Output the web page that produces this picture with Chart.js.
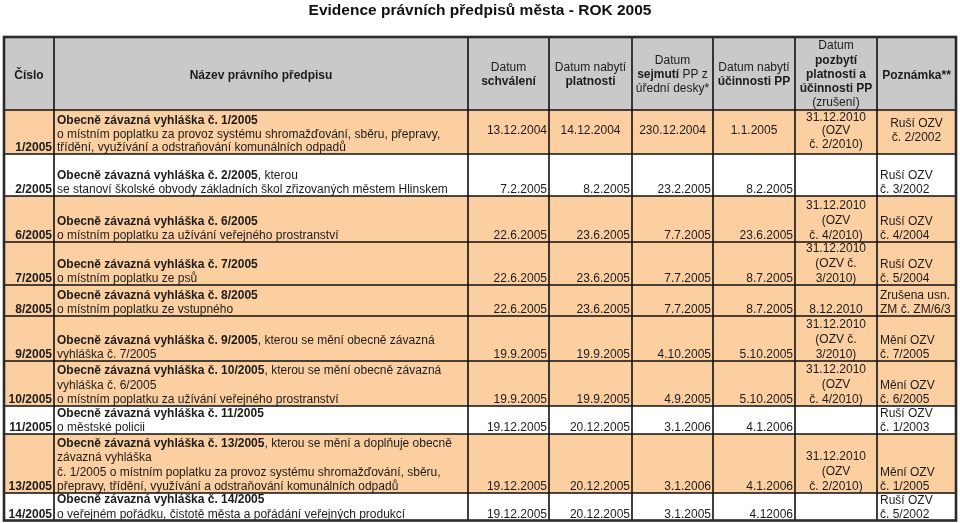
<!DOCTYPE html>
<html>
<head>
<meta charset="utf-8">
<script src="https://cdn.jsdelivr.net/npm/chart.js@4"></script>
<style>
  body { margin: 0; background: #fff; }
  canvas { display: block; }
</style>
</head>
<body>
<canvas id="tabulka" width="960" height="523"></canvas>
<script>

/*DATA TABULKY*/
var titulek = "Evidence právních předpisů města - ROK 2005";

// ~ = prepnuti tucne / normalni
var hlavicky = [
  ["~Číslo"],
  ["~Název právního předpisu"],
  ["Datum", "~schválení"],
  ["Datum nabytí", "~platnosti"],
  ["Datum", "~sejmutí~ PP z", "úřední desky*"],
  ["Datum nabytí", "~účinnosti PP"],
  ["Datum", "~pozbytí", "~platnosti a", "~účinnosti PP", "(zrušení)"],
  ["~Poznámka**"]
];

var cisla = ["1/2005", "2/2005", "6/2005", "7/2005", "8/2005", "9/2005", "10/2005", "11/2005", "13/2005", "14/2005"];

var nazvy = [
  ["~Obecně závazná vyhláška č. 1/2005", "o místním poplatku za provoz systému shromažďování, sběru, přepravy,", "třídění, využívání a odstraňování komunálních odpadů"],
  ["~Obecně závazná vyhláška č. 2/2005~, kterou", "se stanoví školské obvody základních škol zřizovaných městem Hlinskem"],
  ["~Obecně závazná vyhláška č. 6/2005", "o místním poplatku za užívání veřejného prostranství"],
  ["~Obecně závazná vyhláška č. 7/2005", "o místním poplatku ze psů"],
  ["~Obecně závazná vyhláška č. 8/2005", "o místním poplatku ze vstupného"],
  ["~Obecně závazná vyhláška č. 9/2005~, kterou se mění obecně závazná", "vyhláška č. 7/2005"],
  ["~Obecně závazná vyhláška č. 10/2005~, kterou se mění obecně závazná", "vyhláška č. 6/2005", "o místním poplatku za užívání veřejného prostranství"],
  ["~Obecně závazná vyhláška č. 11/2005", "o městské policii"],
  ["~Obecně závazná vyhláška č. 13/2005~, kterou se mění a doplňuje obecně", "závazná vyhláška", "č. 1/2005 o místním poplatku za provoz systému shromažďování, sběru,", "přepravy, třídění, využívání a odstraňování komunálních odpadů"],
  ["~Obecně závazná vyhláška č. 14/2005", "o veřejném pořádku, čistotě města a pořádání veřejných produkcí"]
];

var datumSchvaleni = ["13.12.2004", "7.2.2005", "22.6.2005", "22.6.2005", "22.6.2005", "19.9.2005", "19.9.2005", "19.12.2005", "19.12.2005", "19.12.2005"];
var datumPlatnosti = ["14.12.2004", "8.2.2005", "23.6.2005", "23.6.2005", "23.6.2005", "19.9.2005", "19.9.2005", "20.12.2005", "20.12.2005", "20.12.2005"];
var datumSejmuti = ["230.12.2004", "23.2.2005", "7.7.2005", "7.7.2005", "7.7.2005", "4.10.2005", "4.9.2005", "3.1.2006", "3.1.2006", "3.1.2005"];
var datumUcinnosti = ["1.1.2005", "8.2.2005", "23.6.2005", "8.7.2005", "8.7.2005", "5.10.2005", "5.10.2005", "4.1.2006", "4.1.2006", "4.12006"];
var datumPozbyti = [
  ["31.12.2010", "(OZV", "č. 2/2010)"],
  [],
  ["31.12.2010", "(OZV", "č. 4/2010)"],
  ["31.12.2010", "(OZV č.", "3/2010)"],
  ["8.12.2010"],
  ["31.12.2010", "(OZV č.", "3/2010)"],
  ["31.12.2010", "(OZV", "č. 4/2010)"],
  [],
  ["31.12.2010", "(OZV", "č. 2/2010)"],
  []
];
var poznamky = [
  ["Ruší OZV", "č. 2/2002"],
  ["Ruší OZV", "č. 3/2002"],
  ["Ruší OZV", "č. 4/2004"],
  ["Ruší OZV", "č. 5/2004"],
  ["Zrušena usn.", "ZM č. ZM/6/3"],
  ["Mění OZV", "č. 7/2005"],
  ["Mění OZV", "č. 6/2005"],
  ["Ruší OZV", "č. 1/2003"],
  ["Mění OZV", "č. 1/2005"],
  ["Ruší OZV", "č. 5/2002"]
];
/*DATA TABULKY*/


/*VZHLED*/
var sirkySloupcu = [50, 414, 81, 83, 81, 82, 82, 79];
var vyskyRadku = [73, 44, 42, 46, 43, 31, 45, 45, 28, 59, 27.5];
var posunHlavicky = [1, 1, 0, 0, 0, 0, 0, 1];
var podbarveni = [true, false, true, true, true, true, true, false, true, false];
var barvaHlavicky = "#c9c9c9";
var barvaRadku = "#fccfa1";
var barvaTextu = "#1c1c1c";
var pismo = "'Liberation Sans', Arial, sans-serif";
var velikostPisma = 12;
/*VZHLED*/

var celkemSirka = sirkySloupcu.reduce(function (a, b) { return a + b; }, 0);
var celkemVyska = vyskyRadku.reduce(function (a, b) { return a + b; }, 0);

function hrany(pole) {
  var vysledek = [0];
  for (var i = 0; i < pole.length; i++) {
    vysledek.push(vysledek[i] + pole[i]);
  }
  return vysledek;
}

function casti(text) {
  var kusy = text.split("~");
  var vysledek = [];
  for (var i = 0; i < kusy.length; i++) {
    if (kusy[i] !== "") vysledek.push({ text: kusy[i], tucne: i % 2 == 1 });
  }
  return vysledek;
}

function napisRadek(ctx, text, x, y, zarovnani) {
  var kusy = casti(text);
  var sirka = 0;
  for (var i = 0; i < kusy.length; i++) {
    ctx.font = (kusy[i].tucne ? "bold " : "") + velikostPisma + "px " + pismo;
    kusy[i].sirka = ctx.measureText(kusy[i].text).width;
    sirka += kusy[i].sirka;
  }
  var start = x;
  if (zarovnani == "right") start = x - sirka;
  if (zarovnani == "center") start = x - sirka / 2;
  ctx.textAlign = "left";
  ctx.textBaseline = "alphabetic";
  for (var j = 0; j < kusy.length; j++) {
    ctx.font = (kusy[j].tucne ? "bold " : "") + velikostPisma + "px " + pismo;
    ctx.fillText(kusy[j].text, start, y);
    start += kusy[j].sirka;
  }
}

// bunka: radky textu do obdelniku l,t,r,b
function napisBunku(ctx, radky, l, t, r, b, zarovnani, svisle, radek, posun) {
  if (!radky || radky.length == 0) return;
  radek = radek || 14;
  posun = posun || 0;
  var x = l + 3;
  if (zarovnani == "right") x = r - 2;
  if (zarovnani == "center") x = (l + r) / 2;
  var prvni;
  if (svisle == "middle") {
    prvni = (t + b) / 2 - (radky.length - 1) * radek / 2 + 4.3 + posun;
  } else {
    prvni = b - 3 - (radky.length - 1) * radek;
  }
  for (var i = 0; i < radky.length; i++) {
    napisRadek(ctx, radky[i], x, prvni + i * radek, zarovnani);
  }
}

var tabulkaPlugin = {
  id: "tabulka",
  afterDraw: function (chart) {
    var ctx = chart.ctx;
    var sx = chart.scales.x;
    var sy = chart.scales.y;
    var xe = hrany(sirkySloupcu).map(function (v) { return sx.getPixelForValue(v); });
    var ye = hrany(vyskyRadku).map(function (v) { return sy.getPixelForValue(v); });

    ctx.save();

    /*POZADI*/
    ctx.fillStyle = barvaHlavicky;
    ctx.fillRect(xe[0], ye[0], xe[xe.length - 1] - xe[0], ye[1] - ye[0]);
    for (var r = 0; r < cisla.length; r++) {
      if (podbarveni[r]) {
        ctx.fillStyle = barvaRadku;
        ctx.fillRect(xe[0], ye[r + 1], xe[xe.length - 1] - xe[0], ye[r + 2] - ye[r + 1]);
      }
    }

    /*TEXTY*/
    ctx.fillStyle = barvaTextu;
    for (var h = 0; h < hlavicky.length; h++) {
      napisBunku(ctx, hlavicky[h], xe[h], ye[0], xe[h + 1], ye[1], "center", "middle", 14.3, posunHlavicky[h]);
    }
    for (var i = 0; i < cisla.length; i++) {
      var t = ye[i + 1], b = ye[i + 2];
      var svisle = i == 0 ? "middle" : "bottom";
      var radekPozbyti = i == 0 ? 13.5 : 14.8;
      napisBunku(ctx, ["~" + cisla[i]], xe[0], t, xe[1], b, "right", "bottom");
      napisBunku(ctx, nazvy[i], xe[1], t, xe[2], b, "left", "bottom", i == 0 ? 13.5 : 14.3);
      napisBunku(ctx, [datumSchvaleni[i]], xe[2], t, xe[3], b, "right", svisle, 14, -2);
      napisBunku(ctx, [datumPlatnosti[i]], xe[3], t, xe[4], b, i == 0 ? "center" : "right", svisle, 14, -2);
      napisBunku(ctx, [datumSejmuti[i]], xe[4], t, xe[5], b, i == 0 ? "center" : "right", svisle, 14, -2);
      napisBunku(ctx, [datumUcinnosti[i]], xe[5], t, xe[6], b, i == 0 ? "center" : "right", svisle, 14, -2);
      napisBunku(ctx, datumPozbyti[i], xe[6], t, xe[7], b, "center", svisle, radekPozbyti, -2);
      napisBunku(ctx, poznamky[i], xe[7], t, xe[8], b, i == 0 ? "center" : "left", svisle, 14, -2);
    }

    /*CARY*/
    ctx.strokeStyle = "#111";
    ctx.lineWidth = 1.6;
    ctx.beginPath();
    for (var c = 1; c < xe.length - 1; c++) {
      ctx.moveTo(xe[c], ye[0]);
      ctx.lineTo(xe[c], ye[ye.length - 1]);
    }
    for (var k = 1; k < ye.length - 1; k++) {
      ctx.moveTo(xe[0], ye[k]);
      ctx.lineTo(xe[xe.length - 1], ye[k]);
    }
    ctx.stroke();
    ctx.strokeStyle = "#2a2a2a";
    ctx.lineWidth = 2.6;
    ctx.strokeRect(xe[0], ye[0], xe[xe.length - 1] - xe[0], ye[ye.length - 1] - ye[0]);

    ctx.restore();
  }
};

var ctx = document.getElementById("tabulka");
var graf = new Chart(ctx, {
  type: "scatter",
  data: { datasets: [{ data: [] }] },
  options: {
    responsive: false,
    animation: false,
    devicePixelRatio: 1,
    layout: { padding: { left: 4, right: 4, top: 0, bottom: 2.5 } },
    plugins: {
      legend: { display: false },
      tooltip: { enabled: false },
      title: {
        display: true,
        text: titulek,
        color: "#111",
        font: { family: pismo, size: 15.5, weight: "bold", lineHeight: 1.2 },
        padding: { top: 1.5, bottom: 16.9 }
      }
    },
    scales: {
      x: { type: "linear", display: false, min: 0, max: celkemSirka },
      y: { type: "linear", display: false, reverse: true, min: 0, max: celkemVyska }
    }
  },
  plugins: [tabulkaPlugin]
});

</script>
</body>
</html>
